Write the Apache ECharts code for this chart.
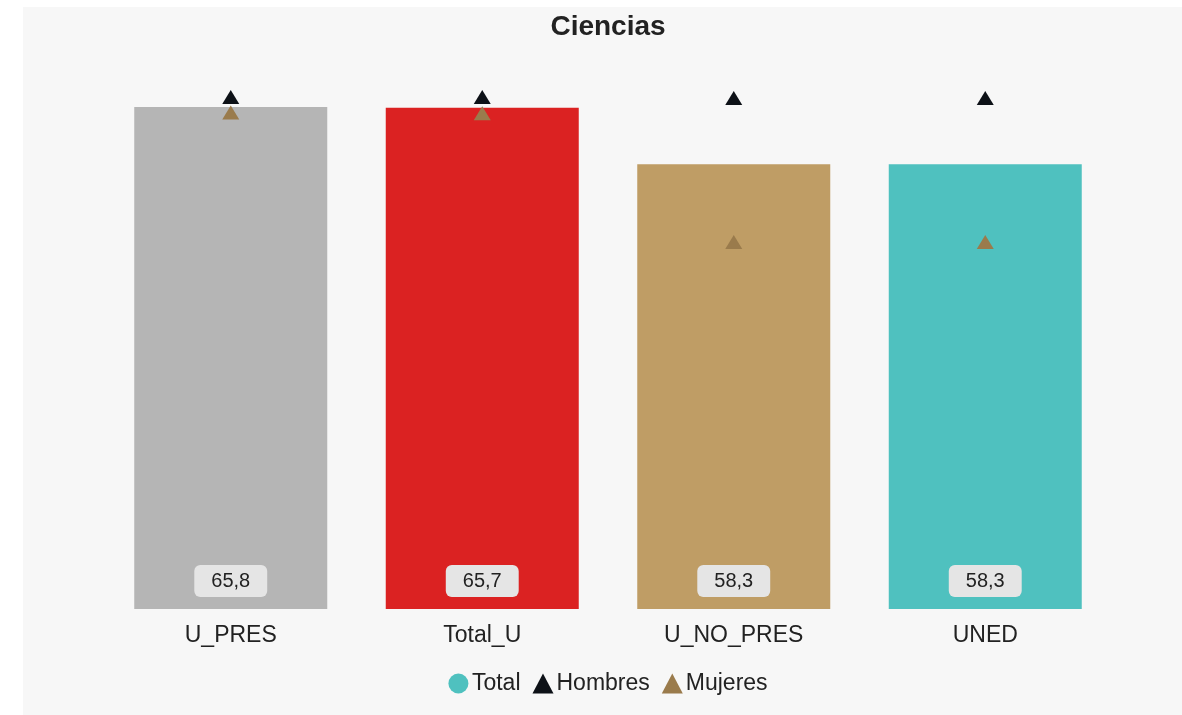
<!DOCTYPE html>
<html><head><meta charset="utf-8">
<script src="https://cdn.jsdelivr.net/npm/echarts@6/dist/echarts.min.js"></script>
<style>
html,body{margin:0;padding:0;background:#fff;overflow:hidden;}
#c{position:absolute;left:23px;top:7px;width:1170px;height:708px;background:#f7f7f7;}
</style></head><body>
<div id="c"></div>
<script>
const categories = ['U_PRES', 'Total_U', 'U_NO_PRES', 'UNED'];
const totalValues = [65.8, 65.7, 58.3, 58.3];
const hombresValues = [67.1, 67.1, 67.0, 67.0];
const mujeresValues = [65.1, 65.0, 48.1, 48.1];
const barColors = ['#b5b5b5', '#db2222', '#bf9d65', '#4fc1bf'];

const chart = echarts.init(document.getElementById('c'));
const fmt = v => v.toFixed(1).replace('.', ',');
chart.setOption({
  backgroundColor: '#f7f7f7',
  textStyle: { fontFamily: '"Liberation Sans", Arial, sans-serif' },
  title: { text: 'Ciencias', left: 'center', top: 1,
    textStyle: { fontSize: 28, fontWeight: 'bold', color: '#222' } },
  legend: {
    bottom: 15, left: 'center', itemGap: 12, itemWidth: 21, itemHeight: 20,
    textStyle: { fontSize: 23, color: '#222', padding: [0, 0, 0, -2] },
    data: [
      { name: 'Total', icon: 'circle', itemStyle: { color: '#4fc1bf' } },
      { name: 'Hombres', icon: 'triangle', itemStyle: { color: '#0d1117' } },
      { name: 'Mujeres', icon: 'triangle', itemStyle: { color: '#9a7b4c' } }
    ]
  },
  grid: { left: 82, right: 82, top: 68, bottom: 106 },
  xAxis: {
    type: 'category', data: categories,
    axisLine: { show: false }, axisTick: { show: false },
    axisLabel: { fontSize: 23, color: '#222', margin: 15 }
  },
  yAxis: { type: 'value', min: 0, max: 70, show: false, splitLine: { show: false } },
  series: [
    { name: 'Total', type: 'bar', barWidth: 193,
      itemStyle: { color: '#4fc1bf' },
      data: totalValues.map((v, i) => ({ value: v, itemStyle: { color: barColors[i] } })),
      label: { show: true, position: 'insideBottom', distance: 12,
        formatter: p => fmt(p.value), fontSize: 20, color: '#222', lineHeight: 22,
        backgroundColor: '#e5e5e5', borderRadius: 6, padding: [5, 17, 5, 17] },
      z: 1 },
    { name: 'Hombres', type: 'scatter', symbol: 'triangle', symbolSize: [17, 14],
      itemStyle: { color: '#0d1117', opacity: 1 }, data: hombresValues, z: 3 },
    { name: 'Mujeres', type: 'scatter', symbol: 'triangle', symbolSize: [17, 14],
      itemStyle: { color: '#9a7b4c', opacity: 1 }, data: mujeresValues, z: 3 }
  ]
});
</script></body></html>
